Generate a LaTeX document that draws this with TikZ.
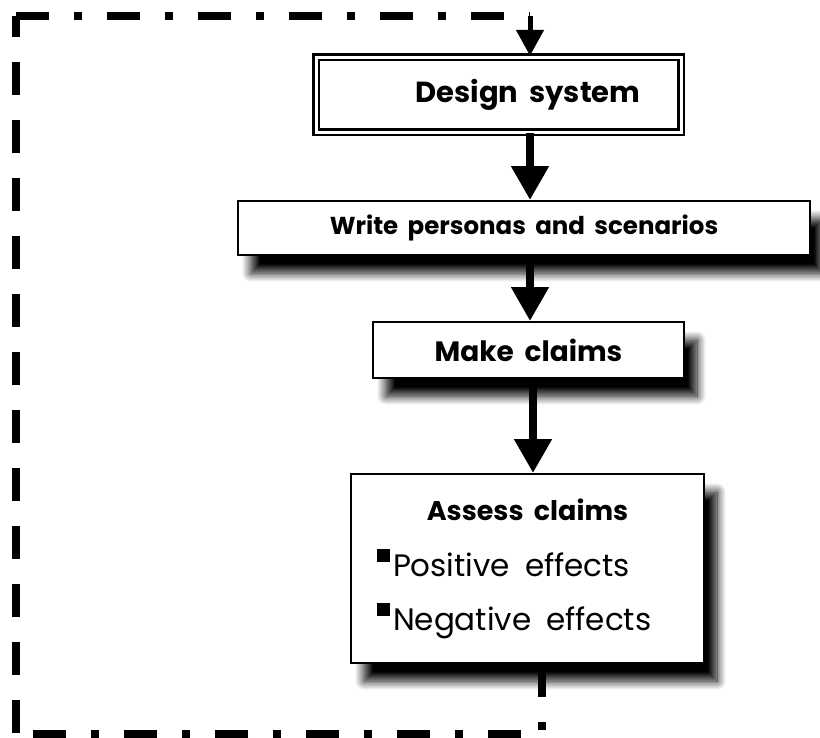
\documentclass[tikz,border=0pt]{standalone}
\usepackage{fontspec}
\setmainfont[WordSpace=1.8]{Poppins}
\usetikzlibrary{arrows.meta,shadows.blur}

\tikzset{
  boxbase/.style={draw, line width=2pt, fill=white, inner sep=0pt},
  shadowbox/.style={boxbase, blur shadow={shadow xshift=13pt, shadow yshift=-18pt,
      shadow blur radius=9pt, shadow blur steps=14, shadow opacity=100}},
  dsgbox/.style={draw, line width=2.5pt, double, double distance=3pt, fill=white,
      inner sep=0pt, minimum width=365pt, minimum height=75pt},
  flowarrow/.style={line width=8pt, -{Triangle[width=36pt,length=34pt]}},
  feedarrow/.style={line width=5pt, -{Triangle[width=27pt,length=26pt]}},
  loopdashdot/.style={line width=8pt, dash pattern=on 33pt off 25pt on 8pt off 25pt},
  loopdash/.style={line width=8pt, dash pattern=on 33pt off 25pt, dash phase=12pt}
}

\begin{document}
\begin{tikzpicture}[x=1pt,y=-1pt]
\useasboundingbox (0,0) rectangle (820,737);
% boxes
\node[dsgbox] (design) at (498.5,94.5) {};
\node (designtext) at (528,95) {\fontsize{29}{32}\selectfont\bfseries Design system};
\node[shadowbox, minimum width=572pt, minimum height=54pt] (write) at (524,228)
  {\fontsize{24.5}{28}\selectfont\bfseries Write personas and scenarios};
\node[shadowbox, minimum width=311pt, minimum height=56pt] (make) at (528.5,350)
  {\fontsize{28}{32}\selectfont\bfseries Make claims};
\node[shadowbox, minimum width=353pt, minimum height=189pt, inner xsep=26pt,
  text width=301pt, align=left] (assess) at (527.5,568.5)
  {\spaceskip=0pt\xspaceskip=0pt\relax
   {\centering\fontsize{27}{30}\selectfont\bfseries Assess claims\par}
   \vspace{2pt}
   \fontsize{31}{54}\selectfont
   \rule[14pt]{13pt}{13pt}\hspace{3pt}Positive effects\\
   \rule[14pt]{13pt}{13pt}\hspace{3pt}Negative effects\par};
% main flow
\coordinate (spine) at (530,0);
\draw[flowarrow] (design.south -| spine) -- (write.north -| spine);
\draw[flowarrow] (write.south -| spine) -- (make.north -| spine);
\draw[flowarrow] ([xshift=3pt]make.south -| spine) -- ([xshift=3pt]assess.north -| spine);
% feedback loop
\coordinate (back) at (542,0);
\coordinate (br) at (542,734);
\coordinate (bl) at (16,734);
\coordinate (tl) at (16,16);
\coordinate (tr) at (530,16);
\draw[loopdashdot] (assess.south -| back) -- (br) -- (bl);
\draw[loopdash] (tl) -- (bl);
\draw[loopdashdot] (tl) -- (tr);
\draw[feedarrow] (tr) -- (design.north -| tr);
\end{tikzpicture}
\end{document}
